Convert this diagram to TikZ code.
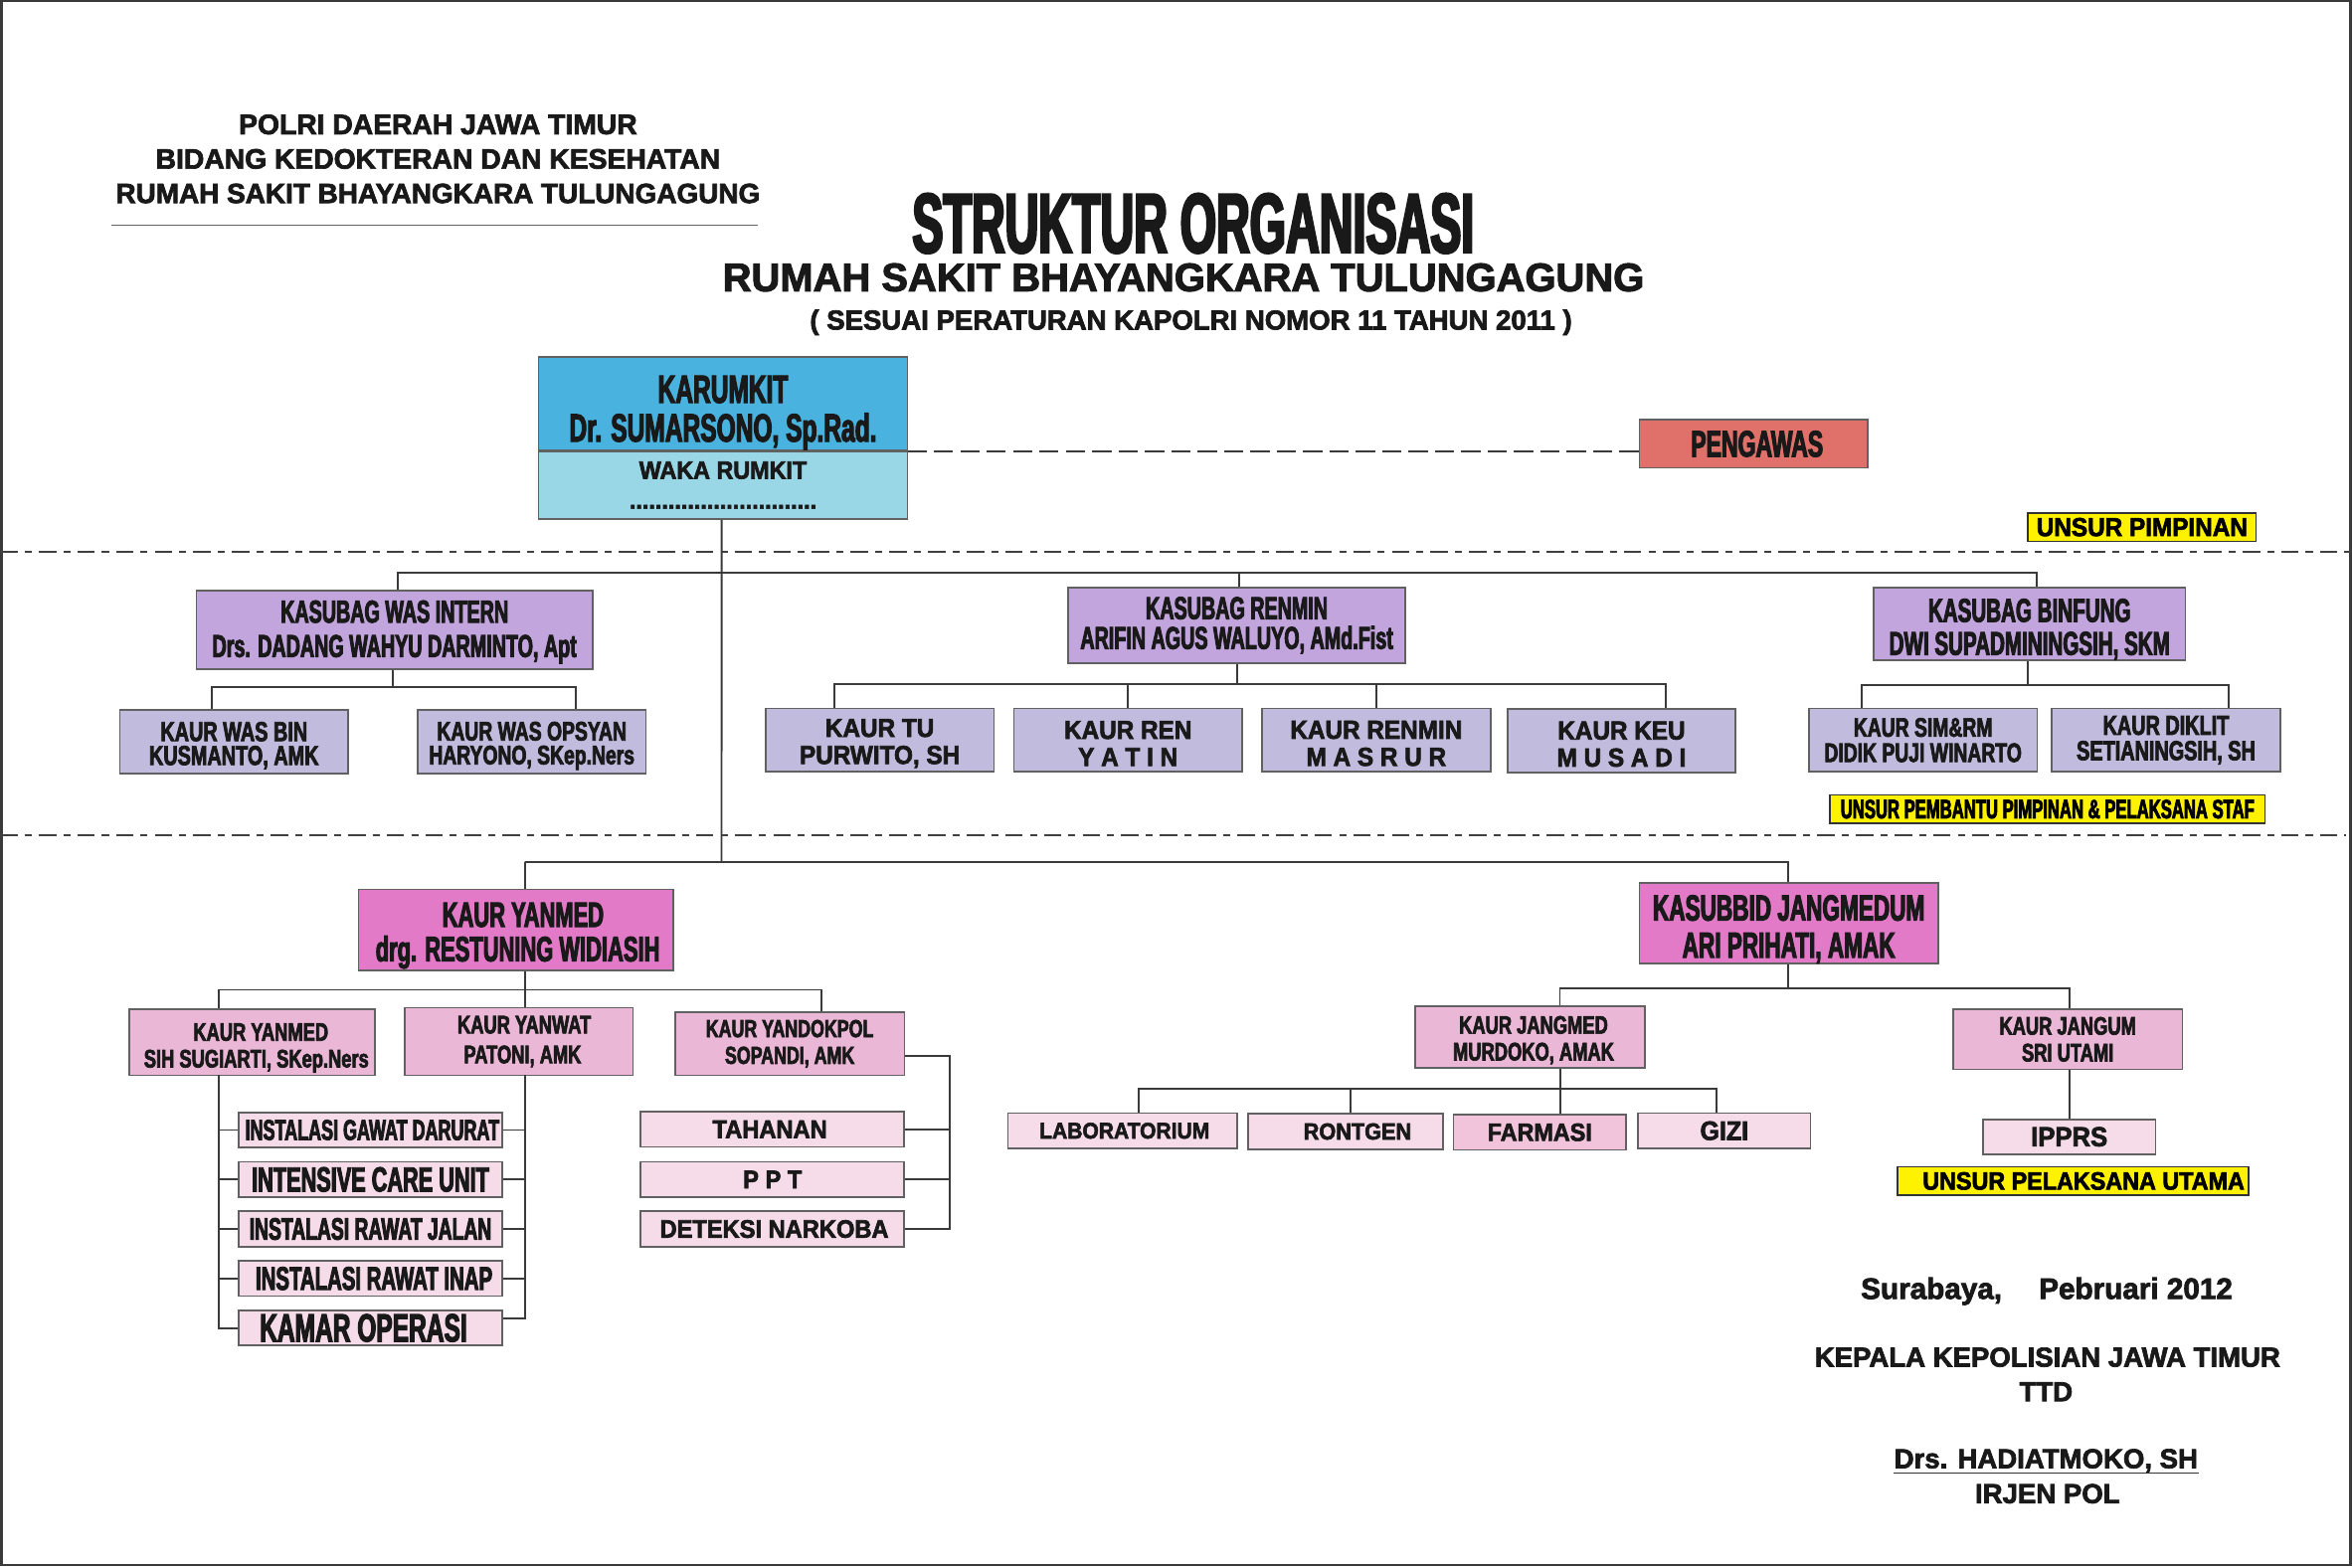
\documentclass[tikz,border=0pt]{standalone}
\usepackage{xcolor}
\usepackage{fontspec}
\usepackage{tikz}
\setmainfont{Liberation Sans}
\newfontfamily\tfont[FakeStretch=0.55,FakeBold=3]{Liberation Sans}
\newfontfamily\nfont[FakeStretch=0.62,FakeBold=2.8]{Liberation Sans}
\newfontfamily\cfont[FakeStretch=0.72,FakeBold=2.6]{Liberation Sans}
\newfontfamily\mfont[FakeStretch=0.93,FakeBold=2.5]{Liberation Sans}
\newfontfamily\wfont[FakeStretch=1.0,FakeBold=2.5]{Liberation Sans}
\newcommand{\lift}[1]{\rule{0pt}{#1}}
\definecolor{karucol}{HTML}{4AB2DE}
\definecolor{wakacol}{HTML}{9AD7E6}
\definecolor{awascol}{HTML}{E0716A}
\definecolor{kasucol}{HTML}{C3A5DE}
\definecolor{kaurcol}{HTML}{C1BBDD}
\definecolor{yanmcol}{HTML}{E37AC8}
\definecolor{yanscol}{HTML}{EBB7D6}
\definecolor{instcol}{HTML}{F6DCE9}
\definecolor{farmcol}{HTML}{F2C4DC}
\definecolor{linecol}{HTML}{3A3A3A}
\tikzset{
  box/.style = {draw = linecol!80, line width = 0.5pt, rectangle, inner sep = 0pt, align = center, text = black!90, font = \cfont\bfseries\fontsize{8}{10.5}\selectfont},
  kasubox/.style = {box, fill = kasucol, font = \nfont\bfseries\fontsize{9}{9.8}\selectfont},
  kaurbox/.style = {box, fill = kaurcol, minimum width = 65pt, minimum height = 18pt, font = \cfont\bfseries\fontsize{7.8}{7.2}\selectfont},
  wkaurbox/.style = {kaurbox, font = \mfont\bfseries\fontsize{7.4}{7.7}\selectfont},
  yanbox/.style = {box, fill = yanmcol, font = \nfont\bfseries\fontsize{10}{9.8}\selectfont},
  subbox/.style = {box, fill = yanscol, minimum height = 18pt, font = \cfont\bfseries\fontsize{7.2}{7.6}\selectfont},
  instbox/.style = {box, fill = instcol, minimum width = 75pt, minimum height = 10pt, font = \nfont\bfseries\fontsize{8.2}{9}\selectfont},
  wardbox/.style = {instbox, font = \mfont\bfseries\fontsize{7.2}{9}\selectfont},
  unsurbox/.style = {draw = black!80, line width = 0.5pt, fill = yellow, inner sep = 0pt, font = \mfont\bfseries\fontsize{7.4}{9}\selectfont},
  title/.style = {inner sep = 0pt, text = black!90, font = \wfont\bfseries\fontsize{8}{10}\selectfont},
  link/.style = {draw = linecol, line width = 0.55pt},
  zone/.style = {draw = black!75, line width = 0.4pt, dash pattern = on 5pt off 2pt on 2pt off 2pt},
}
\begin{document}
\begin{tikzpicture}[x = 0.015cm, y = -0.015cm]
    \useasboundingbox (0, 0) rectangle (1568, 1045);
    \node[draw = linecol, line width = 0.6pt, minimum width = 1566 * 0.015cm, minimum height = 1043 * 0.015cm, inner sep = 0pt] (frame) at (784, 522) {};
    {
      \node[title] (polri) at (292, 83) {POLRI DAERAH JAWA TIMUR};
      \node[title] (bidang) at (292, 106) {BIDANG KEDOKTERAN DAN KESEHATAN};
      \node[title, font = \wfont\bfseries\fontsize{7.9}{10}\selectfont] (rumahtop) at (292, 129) {RUMAH SAKIT BHAYANGKARA TULUNGAGUNG};
      \coordinate (ruleA) at (74, 150);
      \coordinate (ruleB) at (505, 150);
      \draw[draw = black!60, line width = 0.35pt] (ruleA) -- (ruleB);
      \node[inner sep = 0pt, text = black!90, font = \tfont\bfseries\fontsize{24}{26}\selectfont] (struktur) at (795.5, 149) {STRUKTUR ORGANISASI};
      \node[title, font = \wfont\bfseries\fontsize{11.3}{13}\selectfont] (rumah) at (789, 185) {RUMAH SAKIT BHAYANGKARA TULUNGAGUNG};
      \node[title, font = \wfont\bfseries\fontsize{7.8}{9}\selectfont] (sesuai) at (794, 215) {( SESUAI PERATURAN KAPOLRI NOMOR 11 TAHUN 2011 )};
    }
    {
      \node[box, fill = karucol, minimum width = 246 * 0.015cm, minimum height = 62 * 0.015cm, font = \nfont\bfseries\fontsize{11.2}{11}\selectfont] (karumkit) at (482, 269) {\lift{13pt}KARUMKIT\\Dr. SUMARSONO, Sp.Rad.};
      \node[box, fill = wakacol, minimum width = 246 * 0.015cm, minimum height = 45 * 0.015cm, font = \mfont\bfseries\fontsize{7.1}{8.5}\selectfont] (waka) at (482, 323.5) {WAKA RUMKIT\\.............................};
      \node[box, fill = awascol, minimum width = 152 * 0.015cm, minimum height = 32 * 0.015cm, font = \nfont\bfseries\fontsize{10.5}{12}\selectfont] (pengawas) at (1169, 296) {\hspace*{2pt}PENGAWAS};
      \node[unsurbox, minimum width = 152 * 0.015cm, minimum height = 19 * 0.015cm] (pimpinan) at (1428, 351.5) {UNSUR PIMPINAN};
      \coordinate (dashA) at (605, 301);
      \draw[draw = linecol, line width = 0.45pt, dash pattern = on 5.5pt off 2pt] (dashA) -- (dashA -| pengawas.west);
      \coordinate (zoneA) at (0, 368);
      \coordinate (zoneB) at (1567, 368);
      \coordinate (zoneC) at (0, 557);
      \coordinate (zoneD) at (1564, 557);
      \draw[zone] (zoneA) -- (zoneB);
      \draw[zone] (zoneC) -- (zoneD);
    }
    {
      \node[kasubox, minimum width = 264 * 0.015cm, minimum height = 52 * 0.015cm] (wasintern) at (263, 420) {\lift{7.5pt}KASUBAG WAS INTERN\hspace{5pt}\\Drs. DADANG WAHYU DARMINTO, Apt\hspace{2pt}};
      \node[kasubox, minimum width = 225 * 0.015cm, minimum height = 50 * 0.015cm, font = \nfont\bfseries\fontsize{9}{8.5}\selectfont] (renmin) at (824.5, 417) {KASUBAG RENMIN\\ARIFIN AGUS WALUYO, AMd.Fist};
      \node[kasubox, minimum width = 208 * 0.015cm, minimum height = 48 * 0.015cm, font = \nfont\bfseries\fontsize{9.4}{9.4}\selectfont] (binfung) at (1353, 416) {\lift{9.7pt}KASUBAG BINFUNG\\DWI SUPADMININGSIH, SKM};
      \node[kaurbox, font = \cfont\bfseries\fontsize{7.8}{6.8}\selectfont] (wasbin) at (156, 494.5) {\lift{7.7pt}KAUR WAS BIN\\KUSMANTO, AMK};
      \node[kaurbox, font = \cfont\bfseries\fontsize{7.6}{6.8}\selectfont] (opsyan) at (354.5, 494.5) {\lift{7.7pt}KAUR WAS OPSYAN\\HARYONO, SKep.Ners};
      \node[wkaurbox] (kaurtu) at (586.5, 493.5) {\lift{7pt}KAUR TU\\PURWITO, SH};
      \node[wkaurbox] (kaurren) at (752, 493.5) {\lift{7pt}KAUR REN\\Y A T I N};
      \node[wkaurbox] (renminb) at (917.5, 493.5) {\lift{7pt}KAUR RENMIN\\M A S R U R};
      \node[wkaurbox] (kaurkeu) at (1081, 494) {\lift{7pt}KAUR KEU\\M U S A D I};
      \node[kaurbox, font = \cfont\bfseries\fontsize{7.6}{7.2}\selectfont] (simrm) at (1282, 493.5) {KAUR SIM\&RM\\DIDIK PUJI WINARTO};
      \node[kaurbox] (diklit) at (1444, 493.5) {KAUR DIKLIT\\SETIANINGSIH, SH};
      \node[unsurbox, minimum width = 290 * 0.015cm, minimum height = 19 * 0.015cm, font = \nfont\bfseries\fontsize{7.6}{9}\selectfont] (pembantu) at (1365, 539.5) {UNSUR PEMBANTU PIMPINAN \& PELAKSANA STAF};
      \coordinate (busA) at (481, 382);
      \coordinate (busB) at (481, 575);
      \coordinate (busC) at (262, 458);
      \coordinate (busD) at (825, 456);
      \coordinate (busE) at (1352, 457);
      \draw[link] ([xshift = -0.4pt]waka.south) -- (busB);
      \draw[link] ([xshift = 1pt]wasintern.north) |- (busA) -| ([xshift = 0.6pt]renmin.north);
      \draw[link] (busA) -| ([xshift = 2pt]binfung.north);
      \draw[link] (wasintern.south -| busC) -- (busC);
      \draw[link] ([xshift = -6.4pt]wasbin.north) |- (busC) -| ([xshift = 12.6pt]opsyan.north);
      \draw[link] (renmin.south -| busD) -- (busD);
      \draw[link] ([xshift = -13pt]kaurtu.north) |- (busD) -| ([xshift = 12.7pt]kaurkeu.north);
      \draw[link] (kaurren.north) |- (busD);
      \draw[link] (renminb.north) |- (busD);
      \draw[link] (binfung.south -| busE) -- (busE);
      \draw[link] ([xshift = -17.4pt]simrm.north) |- (busE) -| ([xshift = 17.9pt]diklit.north);
    }
    {
      \node[yanbox, minimum width = 210 * 0.015cm, minimum height = 54 * 0.015cm] (yanmed) at (344, 620) {\lift{10.2pt}\hspace*{4pt}KAUR YANMED\\\hspace*{1pt}drg. RESTUNING WIDIASIH};
      \node[yanbox, minimum width = 199 * 0.015cm, minimum height = 53 * 0.015cm, font = \nfont\bfseries\fontsize{10.3}{10.6}\selectfont] (jangmedum) at (1192.5, 615.5) {\lift{10.7pt}KASUBBID JANGMEDUM\\ARI PRIHATI, AMAK};
      \node[subbox, minimum width = 164 * 0.015cm, minimum height = 44 * 0.015cm] (yanmedb) at (168, 695) {\lift{8.2pt}\hspace*{5pt}KAUR YANMED\\\hspace*{2.5pt}SIH SUGIARTI, SKep.Ners};
      \node[subbox, minimum width = 152 * 0.015cm, minimum height = 45 * 0.015cm, font = \cfont\bfseries\fontsize{7.2}{8.5}\selectfont] (yanwat) at (346, 694.5) {\hspace*{3pt}KAUR YANWAT\\\hspace*{2pt}PATONI, AMK};
      \node[subbox, minimum width = 153 * 0.015cm, minimum height = 42 * 0.015cm, font = \cfont\bfseries\fontsize{7}{7.6}\selectfont] (yandokpol) at (526.5, 696) {KAUR YANDOKPOL\\SOPANDI, AMK};
      \node[instbox] (igd) at (247, 753.5) {\hspace*{1pt}INSTALASI GAWAT DARURAT};
      \node[instbox, font = \nfont\bfseries\fontsize{9.9}{9}\selectfont] (icu) at (247, 786.5) {INTENSIVE CARE UNIT};
      \node[instbox, font = \nfont\bfseries\fontsize{8.8}{9}\selectfont] (jalan) at (247, 819.5) {INSTALASI RAWAT JALAN};
      \node[instbox, font = \nfont\bfseries\fontsize{9.3}{9}\selectfont] (inap) at (247, 852.5) {\hspace*{2pt}INSTALASI RAWAT INAP};
      \node[instbox, font = \nfont\bfseries\fontsize{11.2}{9}\selectfont] (kamar) at (247, 885.5) {KAMAR OPERASI\hspace{4pt}};
      \node[wardbox] (tahanan) at (515, 753) {TAHANAN\hspace{1.5pt}};
      \node[wardbox] (ppt) at (515, 786.5) {P P T};
      \node[wardbox] (deteksi) at (515, 819.5) {\hspace*{1pt}DETEKSI NARKOBA};
      \coordinate (busF) at (350, 575);
      \coordinate (busG) at (350, 660);
      \coordinate (trunkL) at (146, 717);
      \coordinate (trunkR) at (350, 717);
      \coordinate (trunkD) at (633, 704);
      \draw[link] ([xshift = 2.6pt]yanmed.north) |- (busF) -- (busB) -| ([xshift = -0.2pt]jangmedum.north);
      \draw[link] (yanmed.south -| busG) -- (busG);
      \draw[link] (busG) -| ([xshift = -9.4pt]yanmedb.north);
      \draw[link] (busG) -| ([xshift = 9pt]yandokpol.north);
      \draw[link] (busG) -- (yanwat.north -| busG);
      \draw[link] (trunkL) |- (kamar.west);
      \draw[link] (igd.west) -- (igd.west -| trunkL);
      \draw[link] (icu.west) -- (icu.west -| trunkL);
      \draw[link] (jalan.west) -- (jalan.west -| trunkL);
      \draw[link] (inap.west) -- (inap.west -| trunkL);
      \draw[link] (trunkR) |- ([yshift = 2.6pt]kamar.east);
      \draw[link] (igd.east) -- (igd.east -| trunkR);
      \draw[link] (icu.east) -- (icu.east -| trunkR);
      \draw[link] (jalan.east) -- (jalan.east -| trunkR);
      \draw[link] (inap.east) -- (inap.east -| trunkR);
      \draw[link] (yandokpol.east |- trunkD) -- (trunkD) |- (deteksi.east);
      \draw[link] (tahanan.east) -- (tahanan.east -| trunkD);
      \draw[link] (ppt.east) -- (ppt.east -| trunkD);
    }
    {
      \node[subbox, minimum width = 153 * 0.015cm, minimum height = 41 * 0.015cm] (jangmed) at (1020, 691.5) {\lift{6.8pt}\hspace*{2pt}KAUR JANGMED\\\hspace*{2pt}MURDOKO, AMAK};
      \node[subbox, minimum width = 153 * 0.015cm, minimum height = 40 * 0.015cm] (jangum) at (1378.5, 693) {KAUR JANGUM\\SRI UTAMI};
      \node[wardbox, minimum width = 153 * 0.015cm, font = \mfont\bfseries\fontsize{6.4}{9}\selectfont] (lab) at (748.5, 754) {\hspace*{1pt}LABORATORIUM};
      \node[wardbox, minimum width = 130 * 0.015cm, font = \mfont\bfseries\fontsize{6.6}{9}\selectfont] (rontgen) at (897, 754.5) {\hspace*{6.8pt}RONTGEN};
      \node[wardbox, fill = farmcol, minimum width = 115 * 0.015cm, font = \mfont\bfseries\fontsize{7.1}{9}\selectfont] (farmasi) at (1026.5, 755) {FARMASI};
      \node[wardbox, minimum width = 115 * 0.015cm, font = \mfont\bfseries\fontsize{7.6}{9}\selectfont] (gizi) at (1149.5, 754) {GIZI};
      \node[wardbox, minimum width = 115 * 0.015cm, font = \mfont\bfseries\fontsize{7.8}{9}\selectfont] (ipprs) at (1379.5, 758) {IPPRS};
      \node[unsurbox, minimum width = 234 * 0.015cm, minimum height = 19 * 0.015cm, font = \mfont\bfseries\fontsize{7.1}{9}\selectfont] (pelaksana) at (1382, 787.5) {\hspace{6pt}UNSUR PELAKSANA UTAMA};
      \coordinate (busH) at (1192, 659);
      \coordinate (busI) at (1040, 726);
      \draw[link] (jangmedum.south -| busH) -- (busH);
      \draw[link] ([xshift = 8.5pt]jangmed.north) |- (busH) -| ([xshift = 0.6pt]jangum.north);
      \draw[link] (jangmed.south -| busI) -- (farmasi.north -| busI);
      \draw[link] ([xshift = 4.5pt]lab.north) |- (busI) -| ([xshift = -2.3pt]gizi.north);
      \draw[link] ([xshift = 1.3pt]rontgen.north) |- (busI);
      \draw[link] (jangum.south -| ipprs.north) -- (ipprs.north);
    }
    {
      \node[title, font = \wfont\bfseries\fontsize{8.4}{10}\selectfont] (surabaya) at (1364.5, 861) {Surabaya,\hspace{10.5pt}Pebruari 2012};
      \node[title, font = \wfont\bfseries\fontsize{7.8}{10}\selectfont] (kepala) at (1365, 905) {KEPALA KEPOLISIAN JAWA TIMUR};
      \node[title, font = \wfont\bfseries\fontsize{7.8}{10}\selectfont] (ttd) at (1364, 928) {TTD};
      \node[title, font = \wfont\bfseries\fontsize{7.8}{10}\selectfont] (hadiat) at (1364, 974) {Drs. HADIATMOKO, SH};
      \draw[draw = black!80, line width = 0.5pt] (hadiat.south west) -- (hadiat.south east);
      \node[title, font = \wfont\bfseries\fontsize{7.8}{10}\selectfont] (irjen) at (1365, 996) {IRJEN POL};
    }
  \end{tikzpicture}
\end{document}
